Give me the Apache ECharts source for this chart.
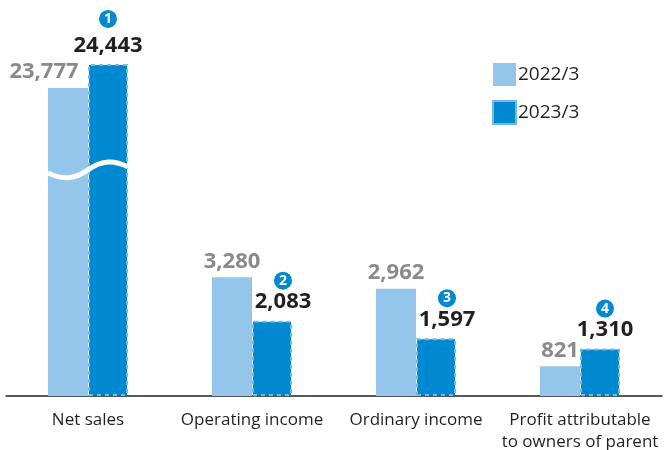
<!DOCTYPE html>
<html>
<head>
<meta charset="utf-8">
<script src="https://cdn.jsdelivr.net/npm/echarts@6/dist/echarts.min.js"></script>
<style>
  html, body { margin: 0; padding: 0; background: #fff; }
  #chart { width: 664px; height: 450px; }
</style>
</head>
<body>
<div id="chart"></div>
<script>
// data
var categories = ['Net sales', 'Operating income', 'Ordinary income', 'Profit attributable\nto owners of parent'];
var values2022 = [23777, 3280, 2962, 821];
var values2023 = [24443, 2083, 1597, 1310];
var badges = ['1', '2', '3', '4'];
var seriesNames = ['2022/3', '2023/3'];

var BREAK_START = 6250, BREAK_END = 21514; // axis cut for net sales

var LIGHT = '#93c6ea', DARK = '#0088d0';
var FONT = 'Open Sans';

function fmt(v) {
  return String(v).replace(/\B(?=(\d{3})+(?!\d))/g, ',');
}

// per-bar label nudges (x offset) for the 2023 labels
var offs2023 = [0, 11, 11, 5];

var chart = echarts.init(document.getElementById('chart'));

var data2022 = values2022.map(function (v, i) {
  var d = { value: v };
  if (i === 0) d.label = { offset: [-24, 0] };
  return d;
});

var data2023 = values2023.map(function (v, i) {
  var d = { value: v, label: { offset: [offs2023[i], 0] } };
  if (i === 0) {
    d.label.distance = 0;
    d.label.rich = { v: { lineHeight: 36 } };
  }
  return d;
});

var option = {
  animation: false,
  textStyle: { fontFamily: FONT },
  legend: {
    orient: 'vertical',
    left: 487,
    top: 58,
    itemWidth: 23,
    itemHeight: 23,
    itemGap: 14,
    icon: 'rect',
    textStyle: { fontSize: 19, color: '#231f20', fontFamily: FONT, padding: [0, 0, 0, -3] },
    data: seriesNames
  },
  grid: { left: 6, right: 2, top: 10, bottom: 54, containLabel: false, outerBoundsMode: 'none' },
  xAxis: {
    type: 'category',
    data: categories,
    axisLine: { lineStyle: { color: '#231f20', width: 1.5 } },
    axisTick: { show: false },
    axisLabel: { color: '#231f20', fontSize: 17, margin: 13, lineHeight: 22, interval: 0, fontFamily: FONT }
  },
  yAxis: {
    type: 'value',
    min: 0,
    max: 25933,
    show: false,
    splitLine: { show: false },
    breaks: [{ start: BREAK_START, end: BREAK_END, gap: 0 }],
    breakArea: { show: false }
  },
  series: [
    {
      name: seriesNames[0],
      type: 'bar',
      barWidth: 40,
      barGap: '0%',
      itemStyle: { color: LIGHT },
      label: {
        show: true,
        position: 'top',
        distance: 5,
        color: '#8a8a8a',
        fontWeight: 'bold',
        fontSize: 22,
        fontFamily: FONT,
        formatter: function (p) { return fmt(p.value); }
      },
      data: data2022
    },
    {
      name: seriesNames[1],
      type: 'bar',
      barWidth: 40,
      itemStyle: { color: DARK, borderColor: '#72b9e6', borderWidth: 2, borderType: [4, 4] },
      label: {
        show: true,
        position: 'top',
        distance: 6,
        formatter: function (p) {
          return '{n|' + badges[p.dataIndex] + '}\n{v|' + fmt(p.value) + '}';
        },
        rich: {
          n: {
            width: 18, height: 18, lineHeight: 18, borderRadius: 9,
            backgroundColor: DARK, color: '#fff', align: 'center',
            fontSize: 14, fontWeight: 'bold', fontFamily: FONT
          },
          v: { fontSize: 22, fontWeight: 'bold', color: '#231f20', lineHeight: 25, fontFamily: FONT }
        }
      },
      data: data2023
    }
  ]
};

chart.setOption(option);

// white wave across the cut net sales bars
var cx = chart.convertToPixel({ xAxisIndex: 0 }, 0);
var cy = chart.convertToPixel({ yAxisIndex: 0 }, BREAK_START);
var x0 = cx - 40, a = 10;
var waveStyle = { fill: null, stroke: '#fff', lineWidth: 5 };
chart.setOption({
  graphic: [
    {
      type: 'bezierCurve', z: 100, style: waveStyle,
      shape: { x1: x0, y1: cy + 3, cpx1: x0 + 14, cpy1: cy + a, cpx2: x0 + 26, cpy2: cy + a, x2: x0 + 40, y2: cy }
    },
    {
      type: 'bezierCurve', z: 100, style: waveStyle,
      shape: { x1: x0 + 40, y1: cy, cpx1: x0 + 54, cpy1: cy - a, cpx2: x0 + 66, cpy2: cy - a, x2: x0 + 80, y2: cy - 3 }
    }
  ]
});
</script>
</body>
</html>
